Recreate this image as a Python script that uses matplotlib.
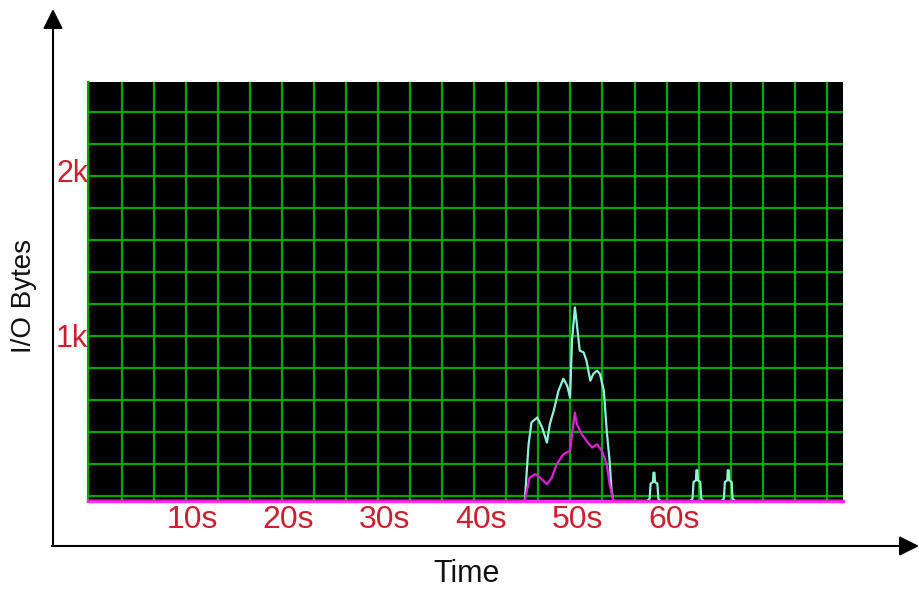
import numpy as np
import matplotlib
matplotlib.use("Agg")
import matplotlib.pyplot as plt

plt.rcParams['font.family'] = ['Liberation Sans', 'DejaVu Sans']

# ---- data (seconds, bytes) ----
cyan_t = [-1, 44.5, 44.9, 45.2, 45.8, 46.3, 46.8, 47.1, 47.5, 48.0, 48.5, 48.9, 49.2,
          49.4, 49.7, 49.9, 50.2, 50.6, 50.9, 51.3, 51.6, 52.0, 52.3, 52.7, 53.0,
          53.3, 53.5, 53.7,
          57.2, 57.45, 57.55, 57.8, 57.85, 57.95, 58.0, 58.25, 58.35, 58.6,
          61.65, 61.9, 62.0, 62.25, 62.3, 62.4, 62.45, 62.7, 62.8, 63.05,
          64.9, 65.15, 65.25, 65.5, 65.55, 65.65, 65.7, 65.95, 66.05, 66.3, 78]
cyan_v = [0, 0, 344, 475, 505, 444, 353, 465, 545, 667, 739, 697, 626,
          970, 1171, 1071, 909, 899, 848, 727, 768, 788, 768, 667, 424,
          242, 61, 0,
          0, 15, 105, 115, 171, 171, 115, 105, 15, 0,
          0, 15, 115, 125, 186, 186, 125, 115, 15, 0,
          0, 15, 115, 125, 186, 186, 125, 115, 15, 0, 0]

mag_t = [-1, 44.5, 45.0, 45.6, 46.1, 46.8, 47.3, 47.8, 48.5, 49.2, 49.4, 49.7, 49.9,
         50.4, 50.9, 51.5, 52.0, 52.5, 53.0, 53.3, 53.7, 78]
mag_v = [0, 0, 141, 162, 141, 101, 141, 222, 283, 303, 404, 535, 465,
         404, 364, 323, 343, 303, 222, 101, 0, 0]

x_ticks = [10, 20, 30, 40, 50, 60]
x_labels = ['10s', '20s', '30s', '40s', '50s', '60s']
y_ticks = [1000, 2000]
y_labels = ['1k', '2k']

W, H = 919, 594
fig = plt.figure(figsize=(W / 100, H / 100), dpi=100)
fig.patch.set_facecolor('white')

# panel in pixel coords
L, R, T, B = 88, 843, 81.7, 501
ax = fig.add_axes([L / W, 1 - B / H, (R - L) / W, (B - T) / H])
ax.set_facecolor('black')
ax.set_xlim(-0.79, 77.5)
ax.set_ylim(0, 2535)

# fixed pixel grid (independent of data scale)
grid_c = '#00a800'
for k in range(23):
    fx = (121.7 + 32.05 * k - L) / (R - L)
    ax.plot([fx, fx], [0, 1], transform=ax.transAxes, color=grid_c, lw=1.6, zorder=1)
for k in range(13):
    fy = (B - (111.7 + 32.05 * k)) / (B - T)
    ax.plot([0, 1], [fy, fy], transform=ax.transAxes, color=grid_c, lw=1.6, zorder=1)

ax.plot(cyan_t, cyan_v, color='#90f2dc', lw=1.6, zorder=3)
ax.plot(mag_t, mag_v, color='#e020d8', lw=1.6, zorder=4)

for s in ['top', 'right']:
    ax.spines[s].set_visible(False)
ax.spines['left'].set_color(grid_c)
ax.spines['left'].set_linewidth(1.6)
ax.spines['bottom'].set_color('#ff30ff')
ax.spines['bottom'].set_linewidth(2.5)

red = '#cc2030'
ax.set_xticks(x_ticks)
ax.set_xticklabels(x_labels, color=red, fontsize=23)
ax.set_yticks(y_ticks)
ax.set_yticklabels(y_labels, color=red, fontsize=22)
ax.tick_params(axis='both', length=0)
ax.tick_params(axis='x', pad=3)
ax.tick_params(axis='y', pad=0)

# outer axis arrows
def fx_(px):
    return px / W

def fy_(py):
    return 1 - py / H

arrow = dict(arrowstyle='-|>,head_length=0.6,head_width=0.3', color='black',
             lw=1.5, mutation_scale=20, shrinkA=0, shrinkB=0)
fig.add_artist(matplotlib.patches.FancyArrowPatch((fx_(53), fy_(546)), (fx_(53), fy_(9)),
               transform=fig.transFigure, **arrow))
fig.add_artist(matplotlib.patches.FancyArrowPatch((fx_(52), fy_(546)), (fx_(919), fy_(546)),
               transform=fig.transFigure, **arrow))

fig.text(fx_(467), fy_(574), 'Time', ha='center', va='center', fontsize=22, color='#111111')
fig.text(fx_(24), fy_(296), 'I/O Bytes', ha='center', va='center', rotation=90,
         fontsize=20, color='#111111')

fig.savefig('out.png', dpi=100)
